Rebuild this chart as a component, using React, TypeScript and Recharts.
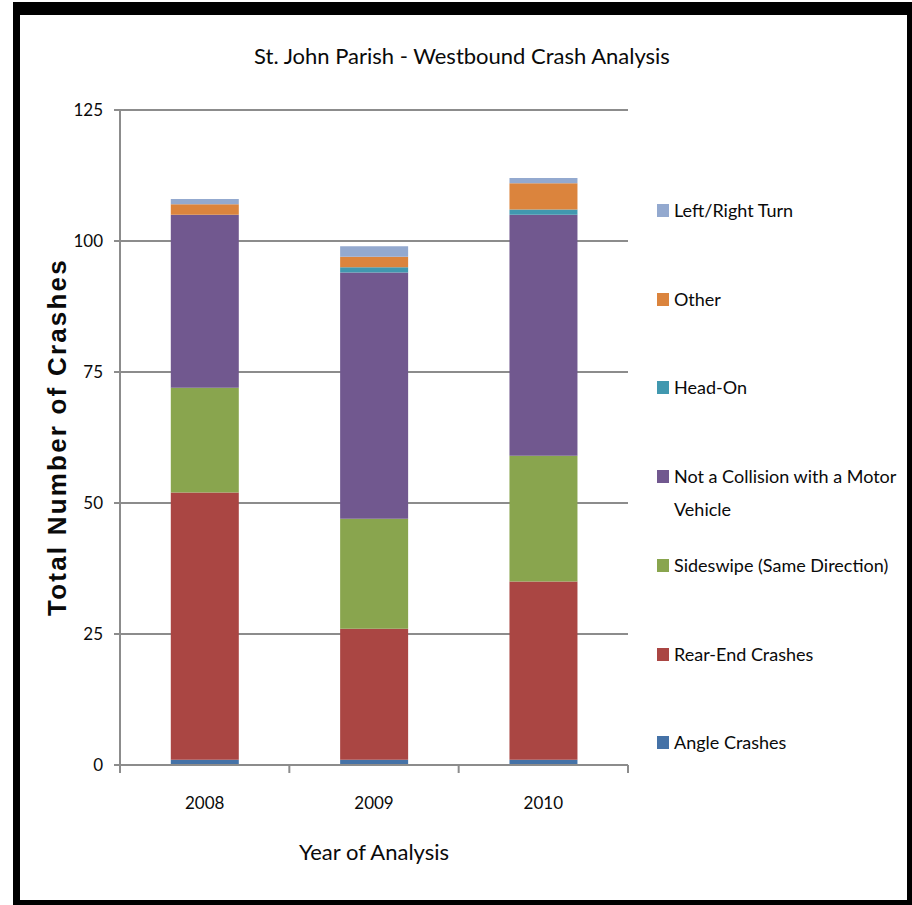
import { BarChart, Bar, XAxis, YAxis, CartesianGrid } from "recharts";

const years = ["2008", "2009", "2010"];
const angleCrashes = [1, 1, 1];
const rearEnd = [51, 25, 34];
const sideswipe = [20, 21, 24];
const notCollision = [33, 47, 46];
const headOn = [0, 1, 1];
const other = [2, 2, 5];
const leftRightTurn = [1, 2, 1];
const yTicks = [0, 25, 50, 75, 100, 125];

// bottom to top stacking order
const series = [
  { key: "angle", name: "Angle Crashes", color: "#4572A7", values: angleCrashes },
  { key: "rear", name: "Rear-End Crashes", color: "#AA4643", values: rearEnd },
  { key: "side", name: "Sideswipe (Same Direction)", color: "#89A54E", values: sideswipe },
  { key: "notc", name: "Not a Collision with a Motor Vehicle", color: "#71588F", values: notCollision },
  { key: "head", name: "Head-On", color: "#4198AF", values: headOn },
  { key: "other", name: "Other", color: "#DB843D", values: other },
  { key: "turn", name: "Left/Right Turn", color: "#93A9CF", values: leftRightTurn },
];

const data = years.map((year, i) => {
  const row: Record<string, string | number> = { year };
  series.forEach((s) => (row[s.key] = s.values[i]));
  return row;
});

const FONT = "Lato, 'Open Sans', sans-serif";
const TEXT = "#0a0a0a";
const PLOT_LEFT = 120;
const PLOT_RIGHT = 628;
const BAND = (PLOT_RIGHT - PLOT_LEFT) / years.length;

function YearTick(props: any) {
  const { x, y, payload, index } = props;
  const left = x - BAND / 2;
  return (
    <g>
      <line x1={left} y1={y - 8} x2={left} y2={y} stroke="#8c8c8c" strokeWidth={2} />
      {index === years.length - 1 && (
        <line x1={x + BAND / 2} y1={y - 8} x2={x + BAND / 2} y2={y} stroke="#8c8c8c" strokeWidth={2} />
      )}
      <text x={x} y={y + 36} textAnchor="middle" fontSize={17} fontFamily={FONT} fill={TEXT}>
        {payload.value}
      </text>
    </g>
  );
}

export default function App() {
  const legendItems = [...series].reverse();
  return (
    <div style={{ position: "absolute", left: 0, top: 0, width: 912, height: 905, background: "#fff" }}>
      {/* black frame */}
      <div
        style={{
          position: "absolute",
          left: 13,
          top: 2,
          width: 899,
          height: 903,
          boxSizing: "border-box",
          borderStyle: "solid",
          borderColor: "#000",
          borderWidth: "13px 5px 5px 7px",
        }}
      />
      <div
        style={{
          position: "absolute",
          left: 462,
          top: 55,
          transform: "translate(-50%, -50%)",
          whiteSpace: "nowrap",
          fontFamily: FONT,
          fontSize: 22,
          color: TEXT,
        }}
      >
        St. John Parish - Westbound Crash Analysis
      </div>
      <div style={{ position: "absolute", left: 0, top: 0 }}>
        <BarChart
          width={912}
          height={905}
          data={data}
          margin={{ top: 110, right: 912 - PLOT_RIGHT, bottom: 100, left: PLOT_LEFT - 70 }}
          barCategoryGap="30%"
        >
          <CartesianGrid vertical={false} stroke="#8c8c8c" strokeWidth={2} />
          <XAxis
            dataKey="year"
            axisLine={{ stroke: "#8c8c8c", strokeWidth: 2 }}
            tickLine={false}
            tick={<YearTick />}
            interval={0}
            height={40}
          />
          <YAxis
            width={70}
            domain={[0, 125]}
            ticks={yTicks}
            axisLine={{ stroke: "#8c8c8c", strokeWidth: 2 }}
            tickLine={{ stroke: "#8c8c8c", strokeWidth: 2 }}
            tickSize={6}
            tickMargin={11}
            tick={{ fontSize: 17, fontFamily: FONT, fill: TEXT }}
          />
          {series.map((s) => (
            <Bar key={s.key} dataKey={s.key} stackId="a" fill={s.color} isAnimationActive={false} />
          ))}
        </BarChart>
      </div>
      <div
        style={{
          position: "absolute",
          left: 57,
          top: 437,
          transform: "translate(-50%, -50%) rotate(-90deg)",
          whiteSpace: "nowrap",
          fontFamily: "'Liberation Sans', Arial, sans-serif",
          fontWeight: "bold",
          fontSize: 26,
          letterSpacing: 2.2,
          color: TEXT,
        }}
      >
        Total Number of Crashes
      </div>
      <div
        style={{
          position: "absolute",
          left: 374,
          top: 851,
          transform: "translate(-50%, -50%)",
          whiteSpace: "nowrap",
          fontFamily: FONT,
          fontSize: 22,
          color: TEXT,
        }}
      >
        Year of Analysis
      </div>
      {legendItems.map((s, i) => (
        <div
          key={s.key}
          style={{
            position: "absolute",
            left: 657,
            top: 198 + i * 88.7,
            width: 240,
            display: "flex",
            alignItems: "flex-start",
            fontFamily: FONT,
            fontSize: 18,
            lineHeight: "33px",
            color: TEXT,
          }}
        >
          <span style={{ width: 12, height: 13, marginTop: 6, marginRight: 5, background: s.color, flexShrink: 0 }} />
          <span style={{ marginTop: -4, maxWidth: 225 }}>{s.name}</span>
        </div>
      ))}
    </div>
  );
}
